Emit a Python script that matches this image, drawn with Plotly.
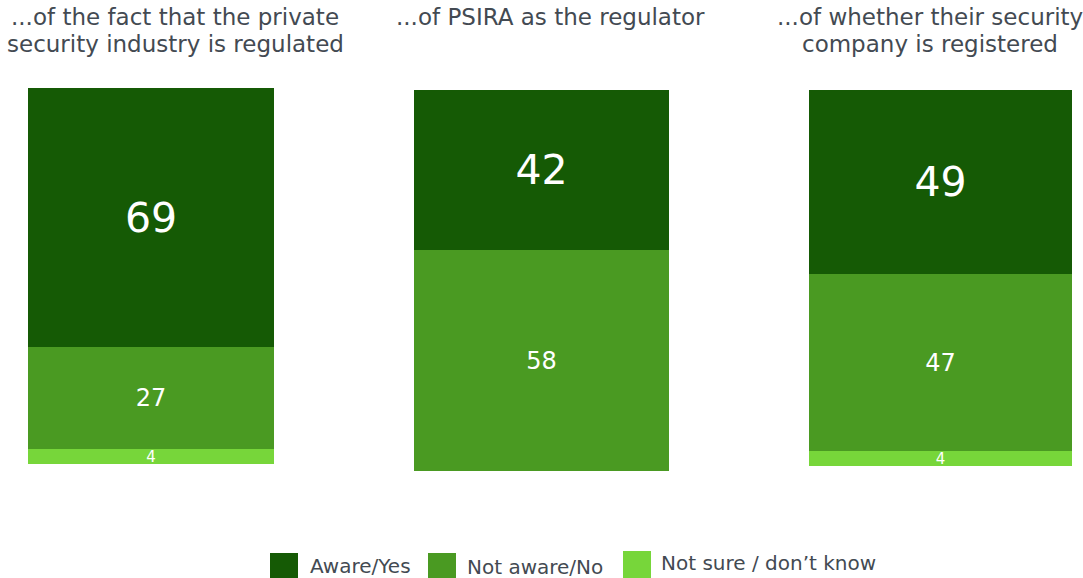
import plotly.graph_objects as go

W, H = 1083, 578

questions = [
    ["...of the fact that the private", "security industry is regulated"],
    ["...of PSIRA as the regulator"],
    ["...of whether their security", "company is registered"],
]
series_names = ["Aware/Yes", "Not aware/No", "Not sure / don\u2019t know"]
aware = [69, 42, 49]
not_aware = [27, 58, 47]
not_sure = [4, 0, 4]

colors = {"Aware/Yes": "#155a05", "Not aware/No": "#4a9a22",
          "Not sure / don\u2019t know": "#77d63a"}
label_sizes = {"Aware/Yes": 41, "Not aware/No": 24,
               "Not sure / don\u2019t know": 15}

FONT = "DejaVu Sans, Verdana, sans-serif"
TEXT_COLOR = "#434a52"


def px_x(p):
    return p / W


def px_y(p):
    return 1 - p / H


# pixel boxes of the three panels: (left, right, top, bottom)
panels = [(28, 274, 88, 464), (414, 669, 90, 471), (809, 1072, 90, 466)]
title_centers = [175, 550, 930]
title_line_y = [17, 44]

fig = go.Figure()

series = [("Not sure / don\u2019t know", not_sure),
          ("Not aware/No", not_aware),
          ("Aware/Yes", aware)]

for i in range(3):
    sfx = "" if i == 0 else str(i + 1)
    for name, vals in series:
        v = vals[i]
        fig.add_trace(go.Bar(
            x=[0], y=[v], width=[1],
            name=name,
            marker=dict(color=colors[name], line=dict(width=0)),
            text=[str(v) if v > 0 else ""],
            textposition="inside",
            insidetextanchor="middle",
            textangle=0,
            constraintext="none",
            textfont=dict(color="white", size=label_sizes[name], family=FONT),
            xaxis="x" + sfx, yaxis="y" + sfx,
            showlegend=False,
            hoverinfo="name+y",
        ))
    l, r, t, b = panels[i]
    fig.layout["xaxis" + sfx] = dict(domain=[px_x(l), px_x(r)], range=[-0.5, 0.5],
                                     visible=False, fixedrange=True,
                                     anchor="y" + sfx)
    fig.layout["yaxis" + sfx] = dict(domain=[px_y(b), px_y(t)], range=[0, 100],
                                     visible=False, fixedrange=True,
                                     anchor="x" + sfx)

annotations = []
for i, lines in enumerate(questions):
    for j, line in enumerate(lines):
        annotations.append(dict(
            text=line, xref="paper", yref="paper",
            x=px_x(title_centers[i]), y=px_y(title_line_y[j]),
            xanchor="center", yanchor="middle", showarrow=False,
            font=dict(size=23, color=TEXT_COLOR, family=FONT),
        ))

# legend swatches and labels along the bottom
legend_items = [
    ("Aware/Yes", 270, 298, 553, 580, 308, 566),
    ("Not aware/No", 428, 456, 553, 580, 465, 567),
    ("Not sure / don\u2019t know", 623, 651, 551, 578, 659, 563),
]
shapes = []
for name, x0, x1, y0, y1, tx, ty in legend_items:
    shapes.append(dict(type="rect", xref="paper", yref="paper",
                       x0=px_x(x0), x1=px_x(x1), y0=px_y(y1), y1=px_y(y0),
                       fillcolor=colors[name], line=dict(width=0)))
    annotations.append(dict(
        text=name, xref="paper", yref="paper", x=px_x(tx), y=px_y(ty),
        xanchor="left", yanchor="middle", showarrow=False,
        font=dict(size=20, color=TEXT_COLOR, family=FONT),
    ))

fig.update_layout(
    width=W, height=H,
    margin=dict(l=0, r=0, t=0, b=0),
    barmode="stack",
    bargap=0,
    paper_bgcolor="white", plot_bgcolor="white",
    annotations=annotations,
    shapes=shapes,
    showlegend=False,
)

fig.write_html("out.html")
